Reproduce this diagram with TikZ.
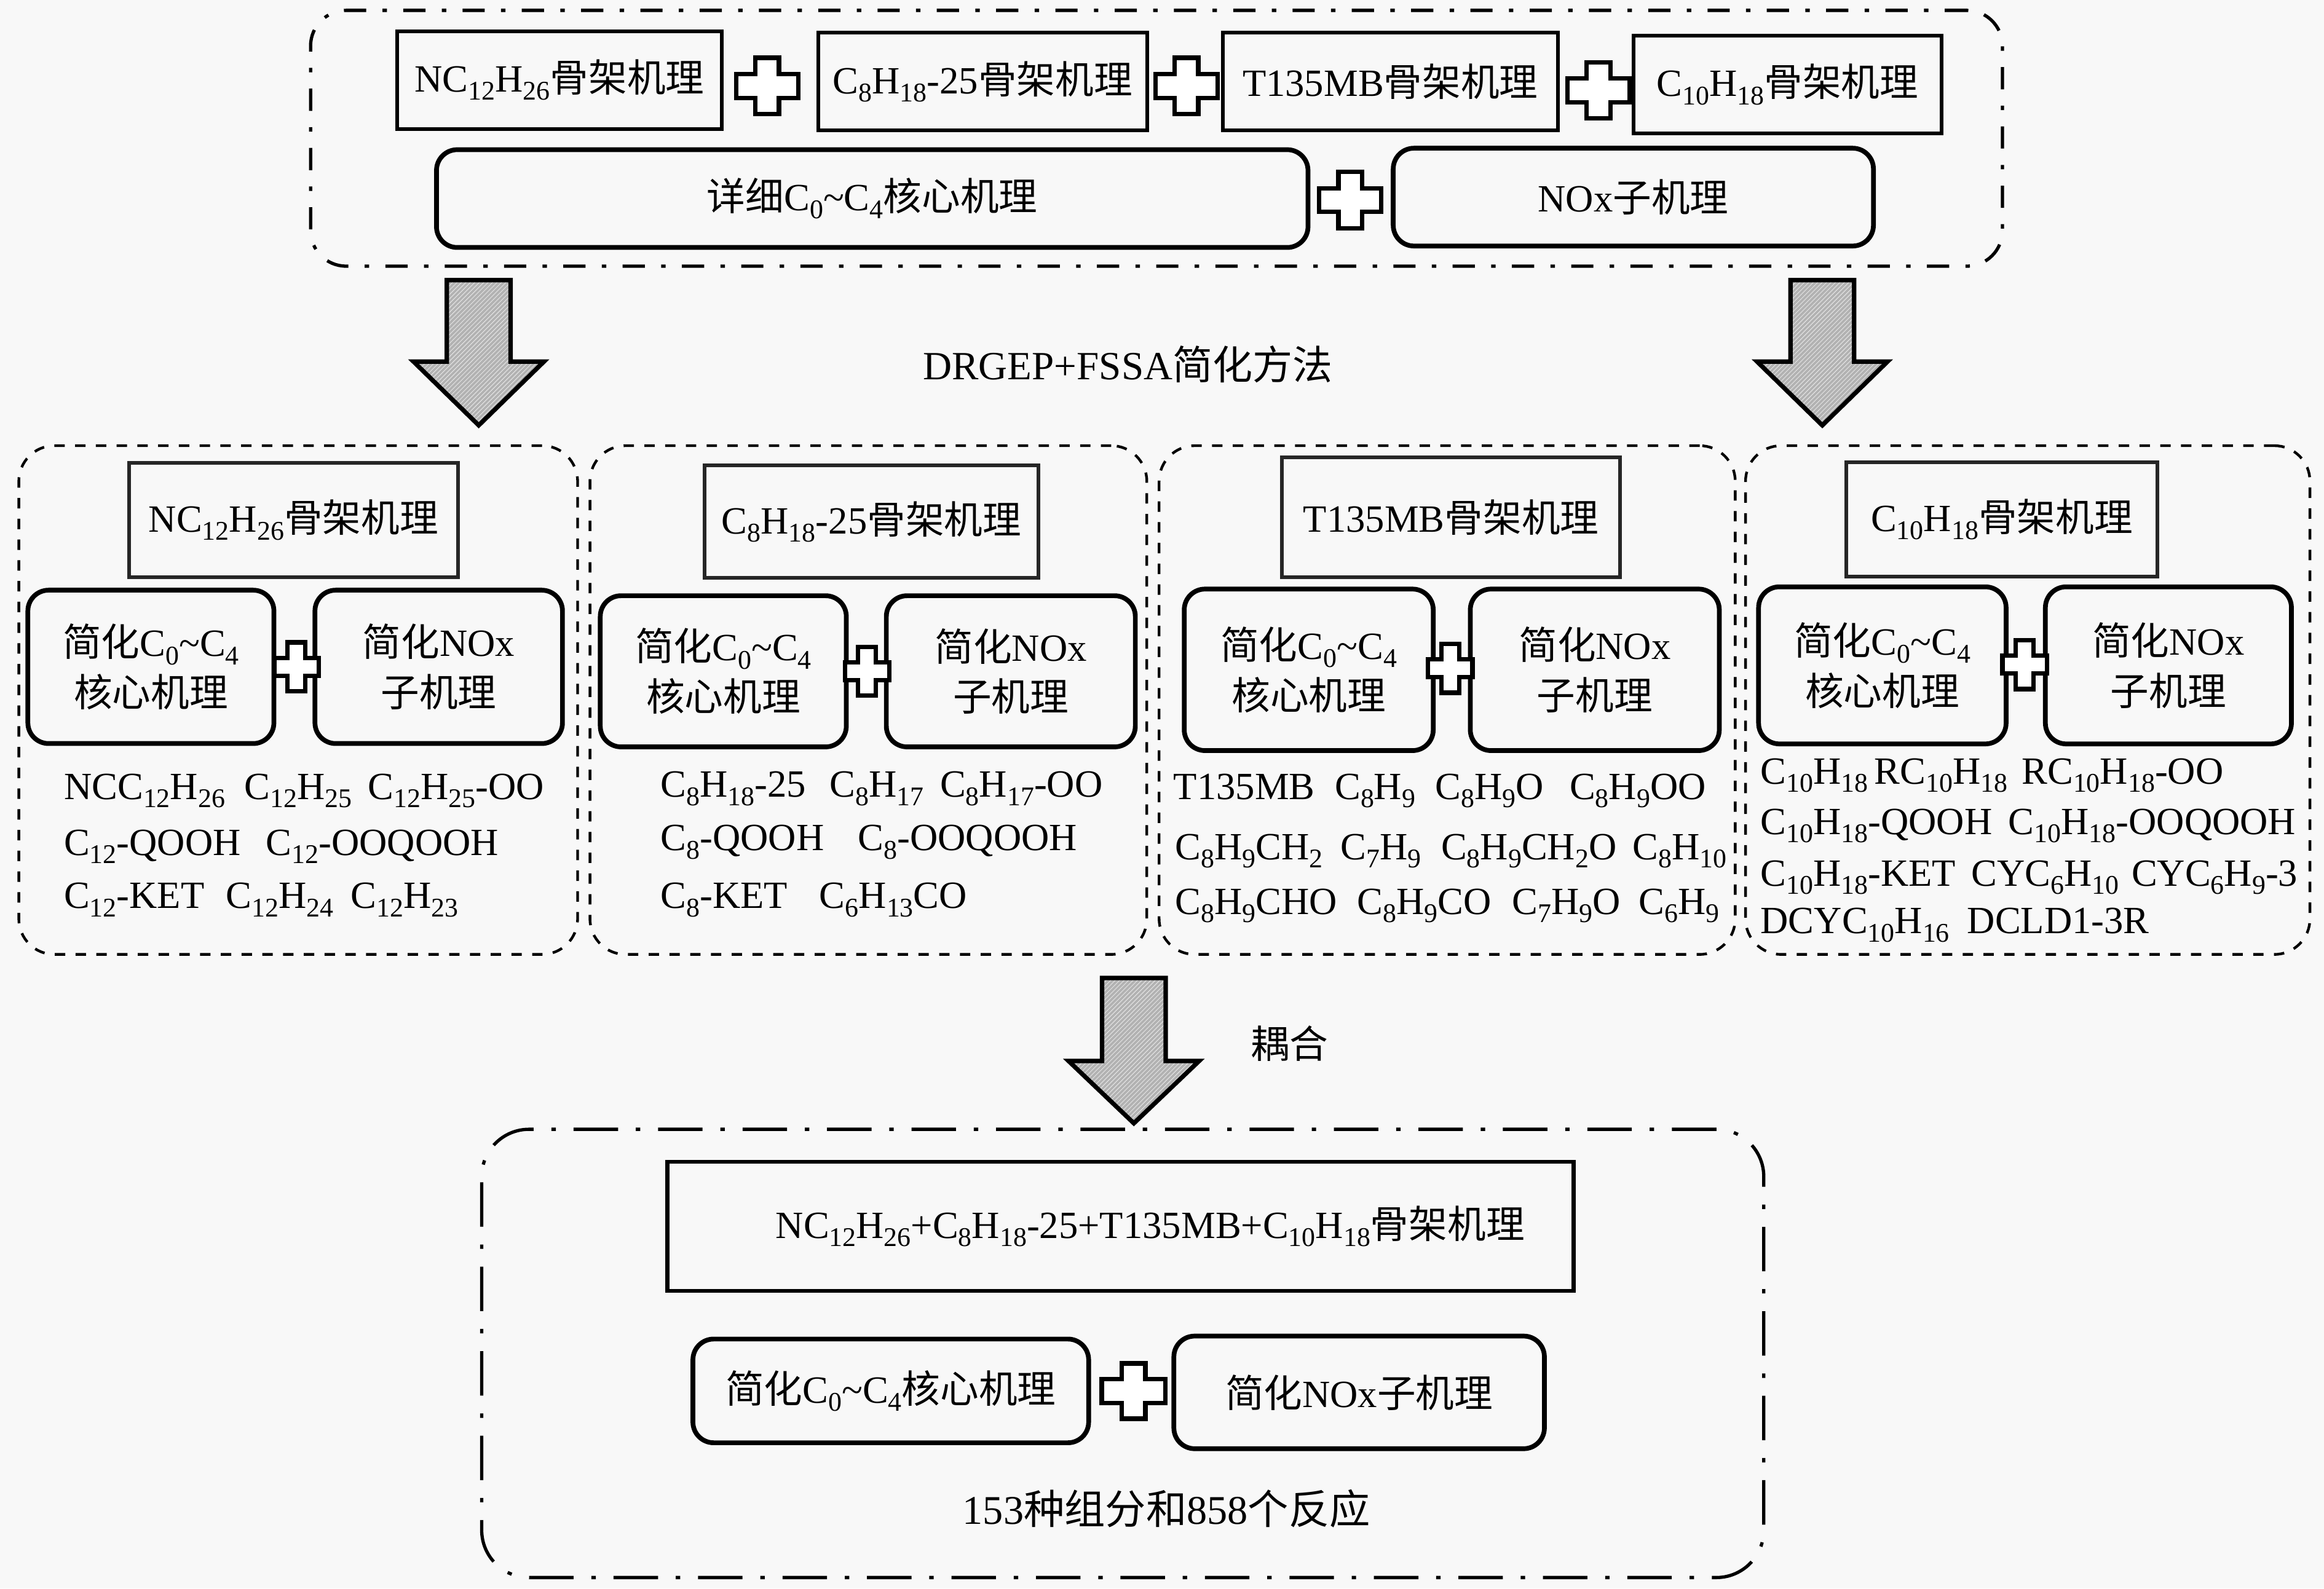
\documentclass[tikz,border=0pt]{standalone}
\usepackage{fontspec}
\setmainfont{Liberation Serif}
\newfontfamily\cjkf{Noto Sans CJK SC}
\usetikzlibrary{patterns}
\newcommand\cj[1]{{\cjkf #1}}
\newcommand\sbs[1]{\raisebox{-5.5pt}{\fontsize{18.2}{20}\selectfont #1}}
\newcommand\tld{\textasciitilde}
\definecolor{bgc}{RGB}{248,248,248}
\newcommand\plusmark[5]{%
 \draw[plusstyle] (#1-#5,#2-#4) -- (#1+#5,#2-#4) -- (#1+#5,#2-#5) -- (#1+#3,#2-#5) -- (#1+#3,#2+#5) -- (#1+#5,#2+#5) -- (#1+#5,#2+#4) -- (#1-#5,#2+#4) -- (#1-#5,#2+#5) -- (#1-#3,#2+#5) -- (#1-#3,#2-#5) -- (#1-#5,#2-#5) -- cycle;}
\newcommand\fatarr[4]{%
 \draw[fatarrow] (#1-21.5,#2) -- (#1+21.5,#2) -- (#1+21.5,#3) -- (#1+44,#3) -- (#1,#4) -- (#1-44,#3) -- (#1-21.5,#3) -- cycle;}
\begin{document}
\begin{tikzpicture}[x=1pt,y=-1pt,
  every node/.style={font=\fontsize{26}{34}\selectfont, inner sep=0pt},
  sharpbox/.style={draw=black, line width=2.6pt},
  titlebox/.style={draw=black!85, line width=2.4pt},
  roundbox/.style={draw=black, line width=3.2pt, rounded corners=14pt, align=center},
  ddbox/.style={draw=black, line width=2.2pt, rounded corners=24pt, dash pattern=on 15pt off 11pt on 3pt off 11pt},
  ddboxB/.style={draw=black, line width=2.2pt, rounded corners=32pt, dash pattern=on 30pt off 12pt on 3pt off 12pt},
  dbox/.style={draw=black, line width=1.8pt, rounded corners=24pt, dash pattern=on 7pt off 7pt},
  plusstyle/.style={draw=black, fill=white, line width=3pt, line join=miter},
  fatarrow/.style={preaction={fill=gray!60}, preaction={pattern=north east lines, pattern color=white!80!gray}, draw=black, line width=3pt, line join=miter},
  spc/.style={anchor=base west},
]
\fill[bgc] (0,0) rectangle (1568,1072);
\useasboundingbox (0,0) rectangle (1568,1072);

% ---------- top section ----------
\node[ddbox, minimum width=1141.5pt, minimum height=172.6pt] (top) at (780.3,93.3) {};
\node[sharpbox, minimum width=219pt, minimum height=66pt] (t1) at (377.5,54) {NC\sbs{12}H\sbs{26}\cj{骨架机理}};
\node[sharpbox, minimum width=222pt, minimum height=66pt] (t2) at (663,55) {C\sbs{8}H\sbs{18}-25\cj{骨架机理}};
\node[sharpbox, minimum width=226pt, minimum height=66pt] (t3) at (938,55) {T135MB\cj{骨架机理}};
\node[sharpbox, minimum width=208pt, minimum height=66pt] (t4) at (1206,57) {C\sbs{10}H\sbs{18}\cj{骨架机理}};
\node[roundbox, minimum width=588pt, minimum height=66pt] (tc) at (588.5,134) {\cj{详细}C\sbs{0}\tld C\sbs{4}\cj{核心机理}};
\node[roundbox, minimum width=324pt, minimum height=66pt] (tn) at (1102,133) {NOx\cj{子机理}};
\plusmark{517.6}{58}{21}{19}{8}
\plusmark{800.5}{58}{21}{19}{8}
\plusmark{1078.5}{61}{21}{19}{8}
\plusmark{911}{135}{21}{19}{8}

% arrows and label
\fatarr{323}{189}{244}{287}
\fatarr{1229.5}{189}{244}{287}
\node[font=\fontsize{27}{34}\selectfont] (lab1) at (761,246) {DRGEP+FSSA\cj{简化方法}};

% ---------- middle boxes ----------
\node[dbox, minimum width=377pt, minimum height=343.3pt] (b1) at (201.2,472.4) {};
\node[dbox, minimum width=375.7pt, minimum height=343.3pt] (b2) at (585.9,472.4) {};
\node[dbox, minimum width=388.7pt, minimum height=343.3pt] (b3) at (976.4,472.4) {};
\node[dbox, minimum width=380.8pt, minimum height=343.3pt] (b4) at (1368.1,472.4) {};

% box 1
\node[titlebox, minimum width=222pt, minimum height=77pt] (b1t) at (198,351) {NC\sbs{12}H\sbs{26}\cj{骨架机理}};
\node[roundbox, minimum width=166pt, minimum height=103.5pt] (b1c) at (101.8,450) {\cj{简化}C\sbs{0}\tld C\sbs{4}\\\cj{核心机理}};
\node[roundbox, minimum width=167pt, minimum height=103.5pt] (b1n) at (296,450) {\cj{简化}NOx\\\cj{子机理}};
\plusmark{200}{450}{15}{16.5}{6}
\node[spc] (b1s1) at (43,539.5) {NCC\sbs{12}H\sbs{26}\hspace{13pt}C\sbs{12}H\sbs{25}\hspace{11pt}C\sbs{12}H\sbs{25}-OO};
\node[spc] (b1s2) at (43,577) {C\sbs{12}-QOOH\hspace{17pt}C\sbs{12}-OOQOOH};
\node[spc] (b1s3) at (43,613) {C\sbs{12}-KET\hspace{14.5pt}C\sbs{12}H\sbs{24}\hspace{11.7pt}C\sbs{12}H\sbs{23}};

% box 2
\node[titlebox, minimum width=225pt, minimum height=76pt] (b2t) at (588,352) {C\sbs{8}H\sbs{18}-25\cj{骨架机理}};
\node[roundbox, minimum width=166pt, minimum height=102pt] (b2c) at (488,453) {\cj{简化}C\sbs{0}\tld C\sbs{4}\\\cj{核心机理}};
\node[roundbox, minimum width=168pt, minimum height=102pt] (b2n) at (682,453) {\cj{简化}NOx\\\cj{子机理}};
\plusmark{585}{453}{15}{16.5}{6}
\node[spc] (b2s1) at (445.6,538) {C\sbs{8}H\sbs{18}-25\hspace{16pt}C\sbs{8}H\sbs{17}\hspace{11pt}C\sbs{8}H\sbs{17}-OO};
\node[spc] (b2s2) at (445.6,574) {C\sbs{8}-QOOH\hspace{23pt}C\sbs{8}-OOQOOH};
\node[spc] (b2s3) at (445.6,613) {C\sbs{8}-KET\hspace{21.5pt}C\sbs{6}H\sbs{13}CO};

% box 3
\node[titlebox, minimum width=228pt, minimum height=81pt] (b3t) at (979,349) {T135MB\cj{骨架机理}};
\node[roundbox, minimum width=168pt, minimum height=109pt] (b3c) at (883,452) {\cj{简化}C\sbs{0}\tld C\sbs{4}\\\cj{核心机理}};
\node[roundbox, minimum width=168pt, minimum height=109pt] (b3n) at (1076,452) {\cj{简化}NOx\\\cj{子机理}};
\plusmark{978.5}{451}{15}{16.5}{6}
\node[spc] (b3s1) at (791.6,539.5) {T135MB\hspace{13.5pt}C\sbs{8}H\sbs{9}\hspace{13.6pt}C\sbs{8}H\sbs{9}O\hspace{17.4pt}C\sbs{8}H\sbs{9}OO};
\node[spc] (b3s2) at (792.7,580) {C\sbs{8}H\sbs{9}CH\sbs{2}\hspace{12pt}C\sbs{7}H\sbs{9}\hspace{13.6pt}C\sbs{8}H\sbs{9}CH\sbs{2}O\hspace{11pt}C\sbs{8}H\sbs{10}};
\node[spc] (b3s3) at (792.7,617) {C\sbs{8}H\sbs{9}CHO\hspace{13.6pt}C\sbs{8}H\sbs{9}CO\hspace{14pt}C\sbs{7}H\sbs{9}O\hspace{12.4pt}C\sbs{6}H\sbs{9}};

% box 4
\node[titlebox, minimum width=210pt, minimum height=77pt] (b4t) at (1350.6,350.5) {C\sbs{10}H\sbs{18}\cj{骨架机理}};
\node[roundbox, minimum width=167pt, minimum height=106pt] (b4c) at (1270,449) {\cj{简化}C\sbs{0}\tld C\sbs{4}\\\cj{核心机理}};
\node[roundbox, minimum width=166pt, minimum height=106pt] (b4n) at (1463,449) {\cj{简化}NOx\\\cj{子机理}};
\plusmark{1366}{448.5}{15}{16.5}{6}
\node[spc] (b4s1) at (1187.7,529) {C\sbs{10}H\sbs{18}\hspace{4.2pt}RC\sbs{10}H\sbs{18}\hspace{9.6pt}RC\sbs{10}H\sbs{18}-OO};
\node[spc] (b4s2) at (1187.7,563) {C\sbs{10}H\sbs{18}-QOOH\hspace{11pt}C\sbs{10}H\sbs{18}-OOQOOH};
\node[spc] (b4s3) at (1187.7,598) {C\sbs{10}H\sbs{18}-KET\hspace{10.4pt}CYC\sbs{6}H\sbs{10}\hspace{8.6pt}CYC\sbs{6}H\sbs{9}-3};
\node[spc] (b4s4) at (1187.7,630) {DCYC\sbs{10}H\sbs{16}\hspace{12pt}DCLD1-3R};

% ---------- bottom section ----------
\fatarr{765}{660}{716}{758}
\node (lab2) at (870,704) {\cj{耦合}};
\node[ddboxB, minimum width=865pt, minimum height=302.5pt] (bot) at (757.5,913.3) {};
\node[sharpbox, minimum width=611.5pt, minimum height=87pt] (bm) at (756,827.5) {\hspace{40pt}NC\sbs{12}H\sbs{26}+C\sbs{8}H\sbs{18}-25+T135MB+C\sbs{10}H\sbs{18}\cj{骨架机理}};
\node[roundbox, minimum width=267pt, minimum height=70pt] (bc) at (601,938.6) {\cj{简化}C\sbs{0}\tld C\sbs{4}\cj{核心机理}};
\node[roundbox, minimum width=250pt, minimum height=76pt] (bn) at (917,939.6) {\cj{简化}NOx\cj{子机理}};
\plusmark{764.8}{938.7}{21.5}{18.7}{8}
\node[font=\fontsize{27.5}{34}\selectfont] (res) at (787,1018) {153\cj{种组分和}858\cj{个反应}};
\end{tikzpicture}
\end{document}
